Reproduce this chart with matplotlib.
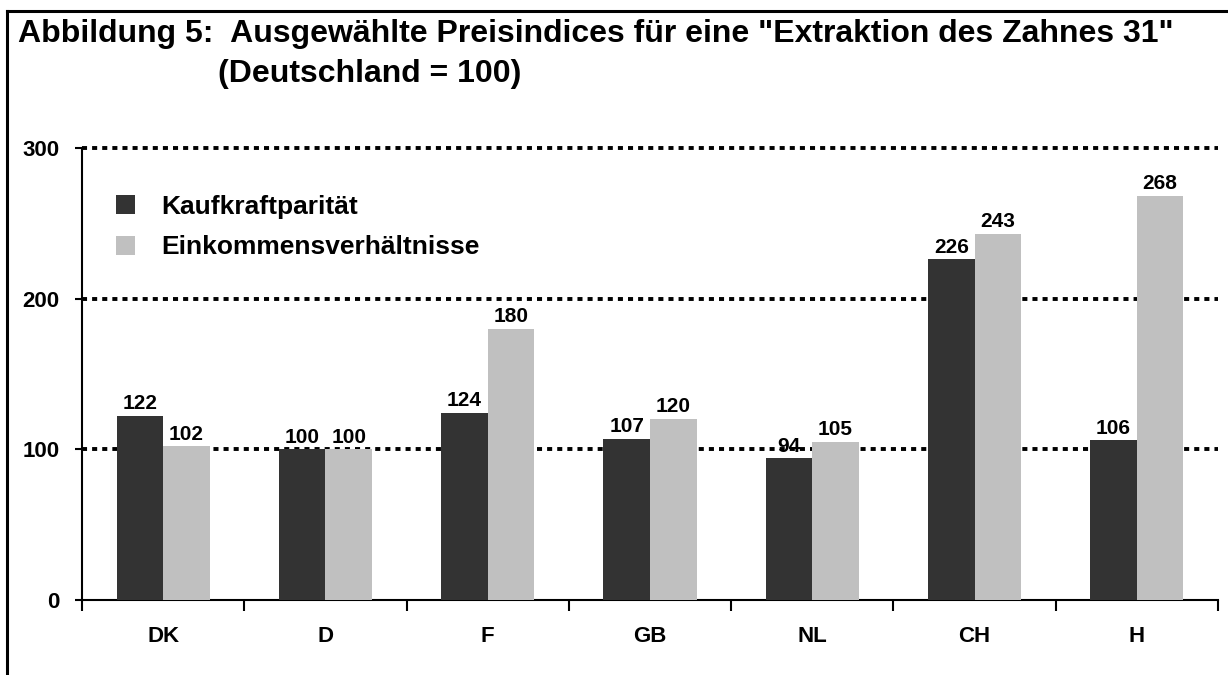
import matplotlib.pyplot as plt
import numpy as np
from matplotlib.patches import Patch
from matplotlib.lines import Line2D

plt.rcParams['font.family'] = ['Liberation Sans', 'DejaVu Sans']
plt.rcParams['font.weight'] = 'bold'

laender = ['DK', 'D', 'F', 'GB', 'NL', 'CH', 'H']
kaufkraft = [122, 100, 124, 107, 94, 226, 106]
einkommen = [102, 100, 180, 120, 105, 243, 268]
serien = ['Kaufkraftparität', 'Einkommensverhältnisse']
farben = ['#333333', '#c0c0c0']

fig = plt.figure(figsize=(12.28, 6.75), dpi=100)
ax = fig.add_axes([82 / 1228, 75 / 675, 1136 / 1228, 452 / 675])

x = np.arange(len(laender))
w = 0.287
b1 = ax.bar(x - w / 2, kaufkraft, w, color=farben[0], zorder=3)
b2 = ax.bar(x + w / 2, einkommen, w, color=farben[1], zorder=3)
for b in (b1, b2):
    ax.bar_label(b, padding=2, fontsize=15, fontweight='bold')

# gepunktete Hilfslinien
for y in (100, 200, 300):
    ax.axhline(y, color='black', lw=2.8, linestyle=(0, (1.3, 1.3)),
               dash_capstyle='butt', zorder=1, clip_on=False)

ax.set_xlim(-0.5, len(laender) - 0.5)
ax.set_ylim(0, 300)
ax.set_yticks([0, 100, 200, 300])
ax.tick_params(axis='y', direction='out', length=5, width=1.5, pad=11,
               labelsize=16)
ax.set_xticks(np.arange(len(laender) + 1) - 0.5)
ax.set_xticklabels([])
ax.tick_params(axis='x', which='major', direction='out', length=8, width=1.5)
ax.set_xticks(x, minor=True)
ax.set_xticklabels(laender, minor=True)
ax.tick_params(axis='x', which='minor', length=0, pad=19, labelsize=16)

for s in ('top', 'right'):
    ax.spines[s].set_visible(False)
ax.spines['left'].set_linewidth(1.5)
ax.spines['bottom'].set_linewidth(1.5)

handles = [Patch(facecolor=c, edgecolor='none') for c in farben]
ax.legend(handles, serien, loc='upper left',
          bbox_to_anchor=(116 / 1228, 1 - 195 / 675),
          bbox_transform=fig.transFigure, frameon=False, fontsize=19,
          handlelength=0.72, handleheight=0.72, handletextpad=1.0,
          labelspacing=0.62, borderaxespad=0, borderpad=0)

fig.text(18 / 1228, 1 - 42 / 675,
         'Abbildung 5:  Ausgewählte Preisindices für eine "Extraktion des Zahnes 31"',
         fontsize=23, fontweight='bold', va='baseline', ha='left')
fig.text(218 / 1228, 1 - 82 / 675, '(Deutschland = 100)',
         fontsize=23, fontweight='bold', va='baseline', ha='left')

# Rahmen
fig.add_artist(Line2D([7 / 1228, 1], [1 - 11 / 675, 1 - 11 / 675],
                      transform=fig.transFigure, color='black', lw=2.2))
fig.add_artist(Line2D([7 / 1228, 7 / 1228], [1 - 11 / 675, 1 - 673 / 675],
                      transform=fig.transFigure, color='black', lw=2.2))

fig.savefig('out.png', dpi=100)
